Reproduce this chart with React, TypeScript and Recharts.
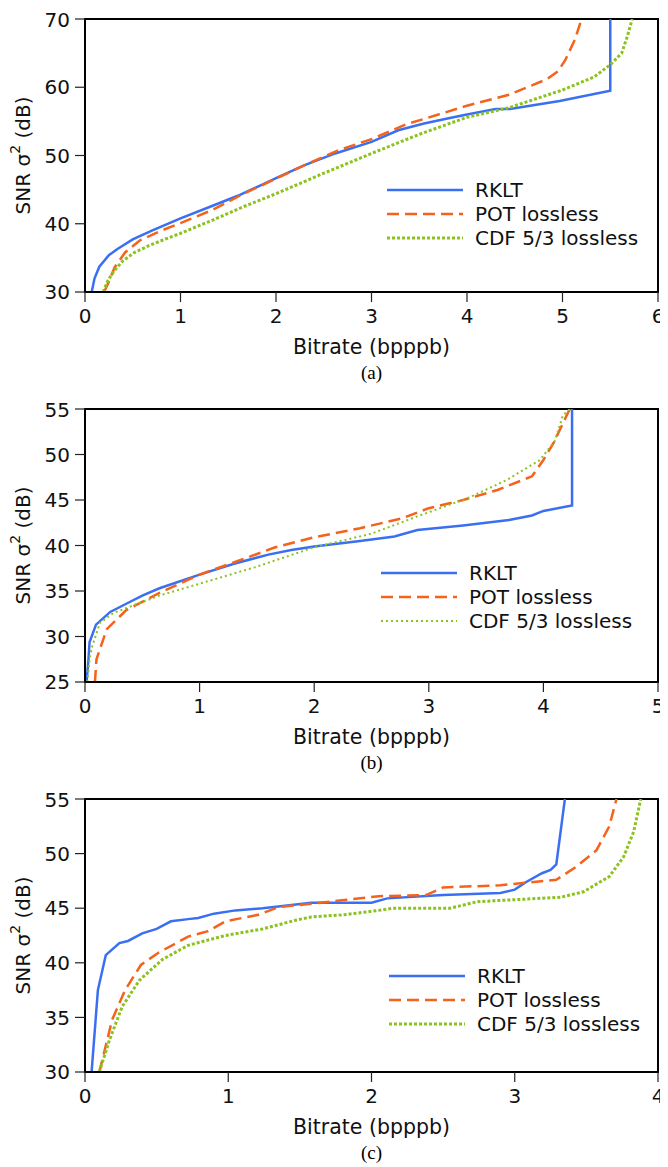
import React from 'react'
import { LineChart, Line, XAxis, YAxis, ReferenceArea } from 'recharts'

// [bitrate, snr] pairs
const rkltA: number[][] = [[0.07, 30], [0.1, 32], [0.15, 33.7], [0.25, 35.4], [0.34, 36.3], [0.5, 37.7], [0.7, 39.0], [1.0, 40.8], [1.33, 42.6], [1.6, 44.1], [1.85, 45.7], [2.0, 46.7], [2.3, 48.6], [2.62, 50.3], [3.0, 52.0], [3.28, 53.7], [3.55, 54.7], [3.82, 55.5], [4.0, 56.0], [4.3, 56.8], [4.45, 56.8], [4.97, 58.0], [5.5, 59.5], [5.5, 70]]
const potA: number[][] = [[0.2, 30], [0.25, 31.5], [0.31, 33.6], [0.42, 35.8], [0.58, 37.6], [0.8, 39.0], [1.0, 40.1], [1.33, 42.0], [1.66, 44.4], [2.0, 46.6], [2.33, 48.8], [2.66, 50.8], [3.0, 52.4], [3.37, 54.6], [3.7, 56.0], [4.0, 57.3], [4.44, 58.9], [4.84, 61.2], [4.95, 62.3], [5.03, 64], [5.13, 67], [5.2, 70]]
const cdfA: number[][] = [[0.19, 30], [0.24, 31.7], [0.3, 33], [0.4, 34.6], [0.52, 35.8], [0.67, 36.8], [0.85, 37.8], [1.0, 38.6], [1.33, 40.5], [1.66, 42.5], [2.0, 44.4], [2.5, 47.4], [3.0, 50.3], [3.5, 53.1], [4.0, 55.6], [4.44, 57.0], [5.0, 59.6], [5.33, 61.5], [5.5, 63.3], [5.62, 65], [5.68, 67.5], [5.73, 70]]

const rkltB: number[][] = [[0.014, 25], [0.03, 27.5], [0.04, 29.4], [0.096, 31.3], [0.22, 32.7], [0.36, 33.6], [0.5, 34.5], [0.65, 35.3], [1.0, 36.8], [1.3, 38.0], [1.6, 39.0], [1.8, 39.5], [2.0, 39.9], [2.4, 40.5], [2.7, 41.0], [2.9, 41.7], [3.3, 42.2], [3.7, 42.8], [3.9, 43.3], [4.0, 43.8], [4.25, 44.4], [4.25, 55]]
const potB: number[][] = [[0.087, 25], [0.1, 27.5], [0.19, 30.8], [0.36, 32.9], [0.65, 34.8], [1.0, 36.8], [1.29, 38.1], [1.66, 39.8], [2.0, 40.9], [2.4, 41.9], [2.77, 43.0], [3.0, 44.1], [3.3, 45.0], [3.6, 46.1], [3.9, 47.6], [4.0, 49.4], [4.09, 51.3], [4.23, 55]]
const cdfB: number[][] = [[0.02, 25], [0.04, 27.5], [0.06, 28.8], [0.13, 31.5], [0.25, 32.6], [0.65, 34.5], [1.0, 35.8], [1.48, 37.6], [2.0, 39.8], [2.5, 41.3], [2.9, 43.2], [3.34, 45.2], [3.68, 47.2], [3.97, 49.4], [4.1, 51.5], [4.17, 54.3], [4.23, 55]]

const rkltC: number[][] = [[0.046, 30], [0.09, 37.5], [0.145, 40.7], [0.24, 41.8], [0.3, 42.0], [0.4, 42.7], [0.5, 43.1], [0.6, 43.8], [0.72, 44.0], [0.79, 44.1], [0.9, 44.5], [1.05, 44.8], [1.24, 45.0], [1.58, 45.5], [1.88, 45.5], [2.0, 45.5], [2.11, 45.9], [2.5, 46.2], [2.9, 46.4], [3.0, 46.7], [3.08, 47.4], [3.19, 48.2], [3.25, 48.5], [3.29, 49.0], [3.35, 55]]
const potC: number[][] = [[0.1, 30], [0.19, 34.8], [0.28, 37.5], [0.39, 39.8], [0.51, 40.9], [0.72, 42.4], [0.86, 42.9], [0.98, 43.8], [1.21, 44.4], [1.35, 45.1], [1.58, 45.4], [1.81, 45.75], [2.05, 46.1], [2.38, 46.2], [2.5, 46.9], [2.9, 47.1], [3.29, 47.6], [3.43, 48.8], [3.57, 50.3], [3.66, 52.5], [3.71, 55]]
const cdfC: number[][] = [[0.1, 30], [0.17, 32.9], [0.26, 36.0], [0.38, 38.4], [0.54, 40.3], [0.72, 41.6], [0.98, 42.5], [1.24, 43.1], [1.47, 43.9], [1.58, 44.2], [1.81, 44.4], [2.05, 44.8], [2.15, 45.0], [2.55, 45.0], [2.74, 45.6], [3.32, 46.0], [3.48, 46.5], [3.66, 47.9], [3.76, 49.7], [3.83, 52], [3.88, 55]]

const xTicksA = [0, 1, 2, 3, 4, 5, 6]
const yTicksA = [30, 40, 50, 60, 70]
const xTicksB = [0, 1, 2, 3, 4, 5]
const yTicksB = [25, 30, 35, 40, 45, 50, 55]
const xTicksC = [0, 1, 2, 3, 4]
const yTicksC = [30, 35, 40, 45, 50, 55]

const seriesNames = ['RKLT', 'POT lossless', 'CDF 5/3 lossless']

const FONT = '"DejaVu Sans", sans-serif'
const BLUE = '#3b6ff2'
const ORANGE = '#f5621b'
const GREEN = '#8cc21f'

const toPoints = (rows: number[][]) => rows.map(([b, snr]) => ({ b, snr }))

interface IPanel {
    caption: string
    rklt: number[][]
    pot: number[][]
    cdf: number[][]
    xTicks: number[]
    yTicks: number[]
    legendTop: number
    legendLeft: number
    dotWidth: number
}

const tickStyle = { fontFamily: FONT, fontSize: 20, fill: '#111' }

const YLabel = (props: any) => {
    const vb = props.viewBox
    const cx = 15
    const cy = vb.y + vb.height / 2
    return (
        <text x={cx} y={cy} transform={`rotate(-90, ${cx}, ${cy})`} textAnchor="middle"
            dominantBaseline="central" style={{ fontFamily: FONT, fontSize: 20, fill: '#111' }}>
            SNR σ<tspan dy={-8} fontSize={14}>2</tspan><tspan dy={8}> (dB)</tspan>
        </text>
    )
}

const XLabel = (props: any) => {
    const vb = props.viewBox
    return (
        <text x={vb.x + vb.width / 2} y={vb.y + 55} textAnchor="middle" dominantBaseline="central"
            style={{ fontFamily: FONT, fontSize: 20.5, fill: '#111' }}>
            Bitrate (bpppb)
        </text>
    )
}

const Panel: React.FunctionComponent<IPanel> = (p) => {
    const xMax = p.xTicks[p.xTicks.length - 1]
    const yMin = p.yTicks[0]
    const yMax = p.yTicks[p.yTicks.length - 1]
    const styles = [
        { color: BLUE, dash: undefined, width: 2.5 },
        { color: ORANGE, dash: '12 6', width: 2.5 },
        { color: GREEN, dash: p.dotWidth > 2.5 ? '3 2' : '2 3', width: p.dotWidth },
    ]
    const sets = [p.rklt, p.pot, p.cdf]

    return (
        <div style={{ position: 'relative', width: 660, height: 390 }}>
            <LineChart width={660} height={350} margin={{ top: 11, right: 10, left: 0, bottom: 6 }}>
                <XAxis type="number" dataKey="b" domain={[0, xMax]} ticks={p.xTicks}
                    allowDataOverflow height={60} tick={tickStyle} tickSize={10} tickMargin={7}
                    axisLine={{ stroke: '#000', strokeWidth: 2 }} tickLine={{ stroke: '#222', strokeWidth: 1.2 }}
                    label={{ content: XLabel }} />
                <YAxis type="number" domain={[yMin, yMax]} ticks={p.yTicks} allowDataOverflow
                    width={77} tick={tickStyle} tickSize={10} tickMargin={5}
                    axisLine={{ stroke: '#000', strokeWidth: 2 }} tickLine={{ stroke: '#222', strokeWidth: 1.2 }}
                    label={{ content: YLabel }} />
                <ReferenceArea x1={0} x2={xMax} y1={yMin} y2={yMax} fill="none" stroke="#000" strokeWidth={2} />
                {sets.map((rows, i) => (
                    <Line key={seriesNames[i]} name={seriesNames[i]} data={toPoints(rows)} dataKey="snr"
                        type="linear" stroke={styles[i].color} strokeWidth={styles[i].width}
                        strokeDasharray={styles[i].dash} dot={false} isAnimationActive={false} />
                ))}
            </LineChart>
            <div style={{ position: 'absolute', left: p.legendLeft, top: p.legendTop }}>
                {seriesNames.map((name, i) => (
                    <div key={name} style={{ display: 'flex', alignItems: 'center', height: 24 }}>
                        <svg width={88} height={24}>
                            <line x1={0} y1={12} x2={76} y2={12} stroke={styles[i].color}
                                strokeWidth={styles[i].width} strokeDasharray={styles[i].dash} />
                        </svg>
                        <span style={{ fontFamily: FONT, fontSize: 20, color: '#111', whiteSpace: 'nowrap' }}>{name}</span>
                    </div>
                ))}
            </div>
            <div style={{ marginLeft: 77, width: 573, height: 40, lineHeight: '30px', textAlign: 'center',
                fontFamily: '"Liberation Serif", serif', fontSize: 19 }}>
                {p.caption}
            </div>
        </div>
    )
}

const App: React.FunctionComponent = () => {
    return (
        <div>
            <Panel caption="(a)" rklt={rkltA} pot={potA} cdf={cdfA} xTicks={xTicksA} yTicks={yTicksA}
                legendTop={170} legendLeft={379} dotWidth={3} />
            <Panel caption="(b)" rklt={rkltB} pot={potB} cdf={cdfB} xTicks={xTicksB} yTicks={yTicksB}
                legendTop={163} legendLeft={373} dotWidth={2} />
            <Panel caption="(c)" rklt={rkltC} pot={potC} cdf={cdfC} xTicks={xTicksC} yTicks={yTicksC}
                legendTop={176} legendLeft={381} dotWidth={3} />
        </div>
    )
}

export default App
